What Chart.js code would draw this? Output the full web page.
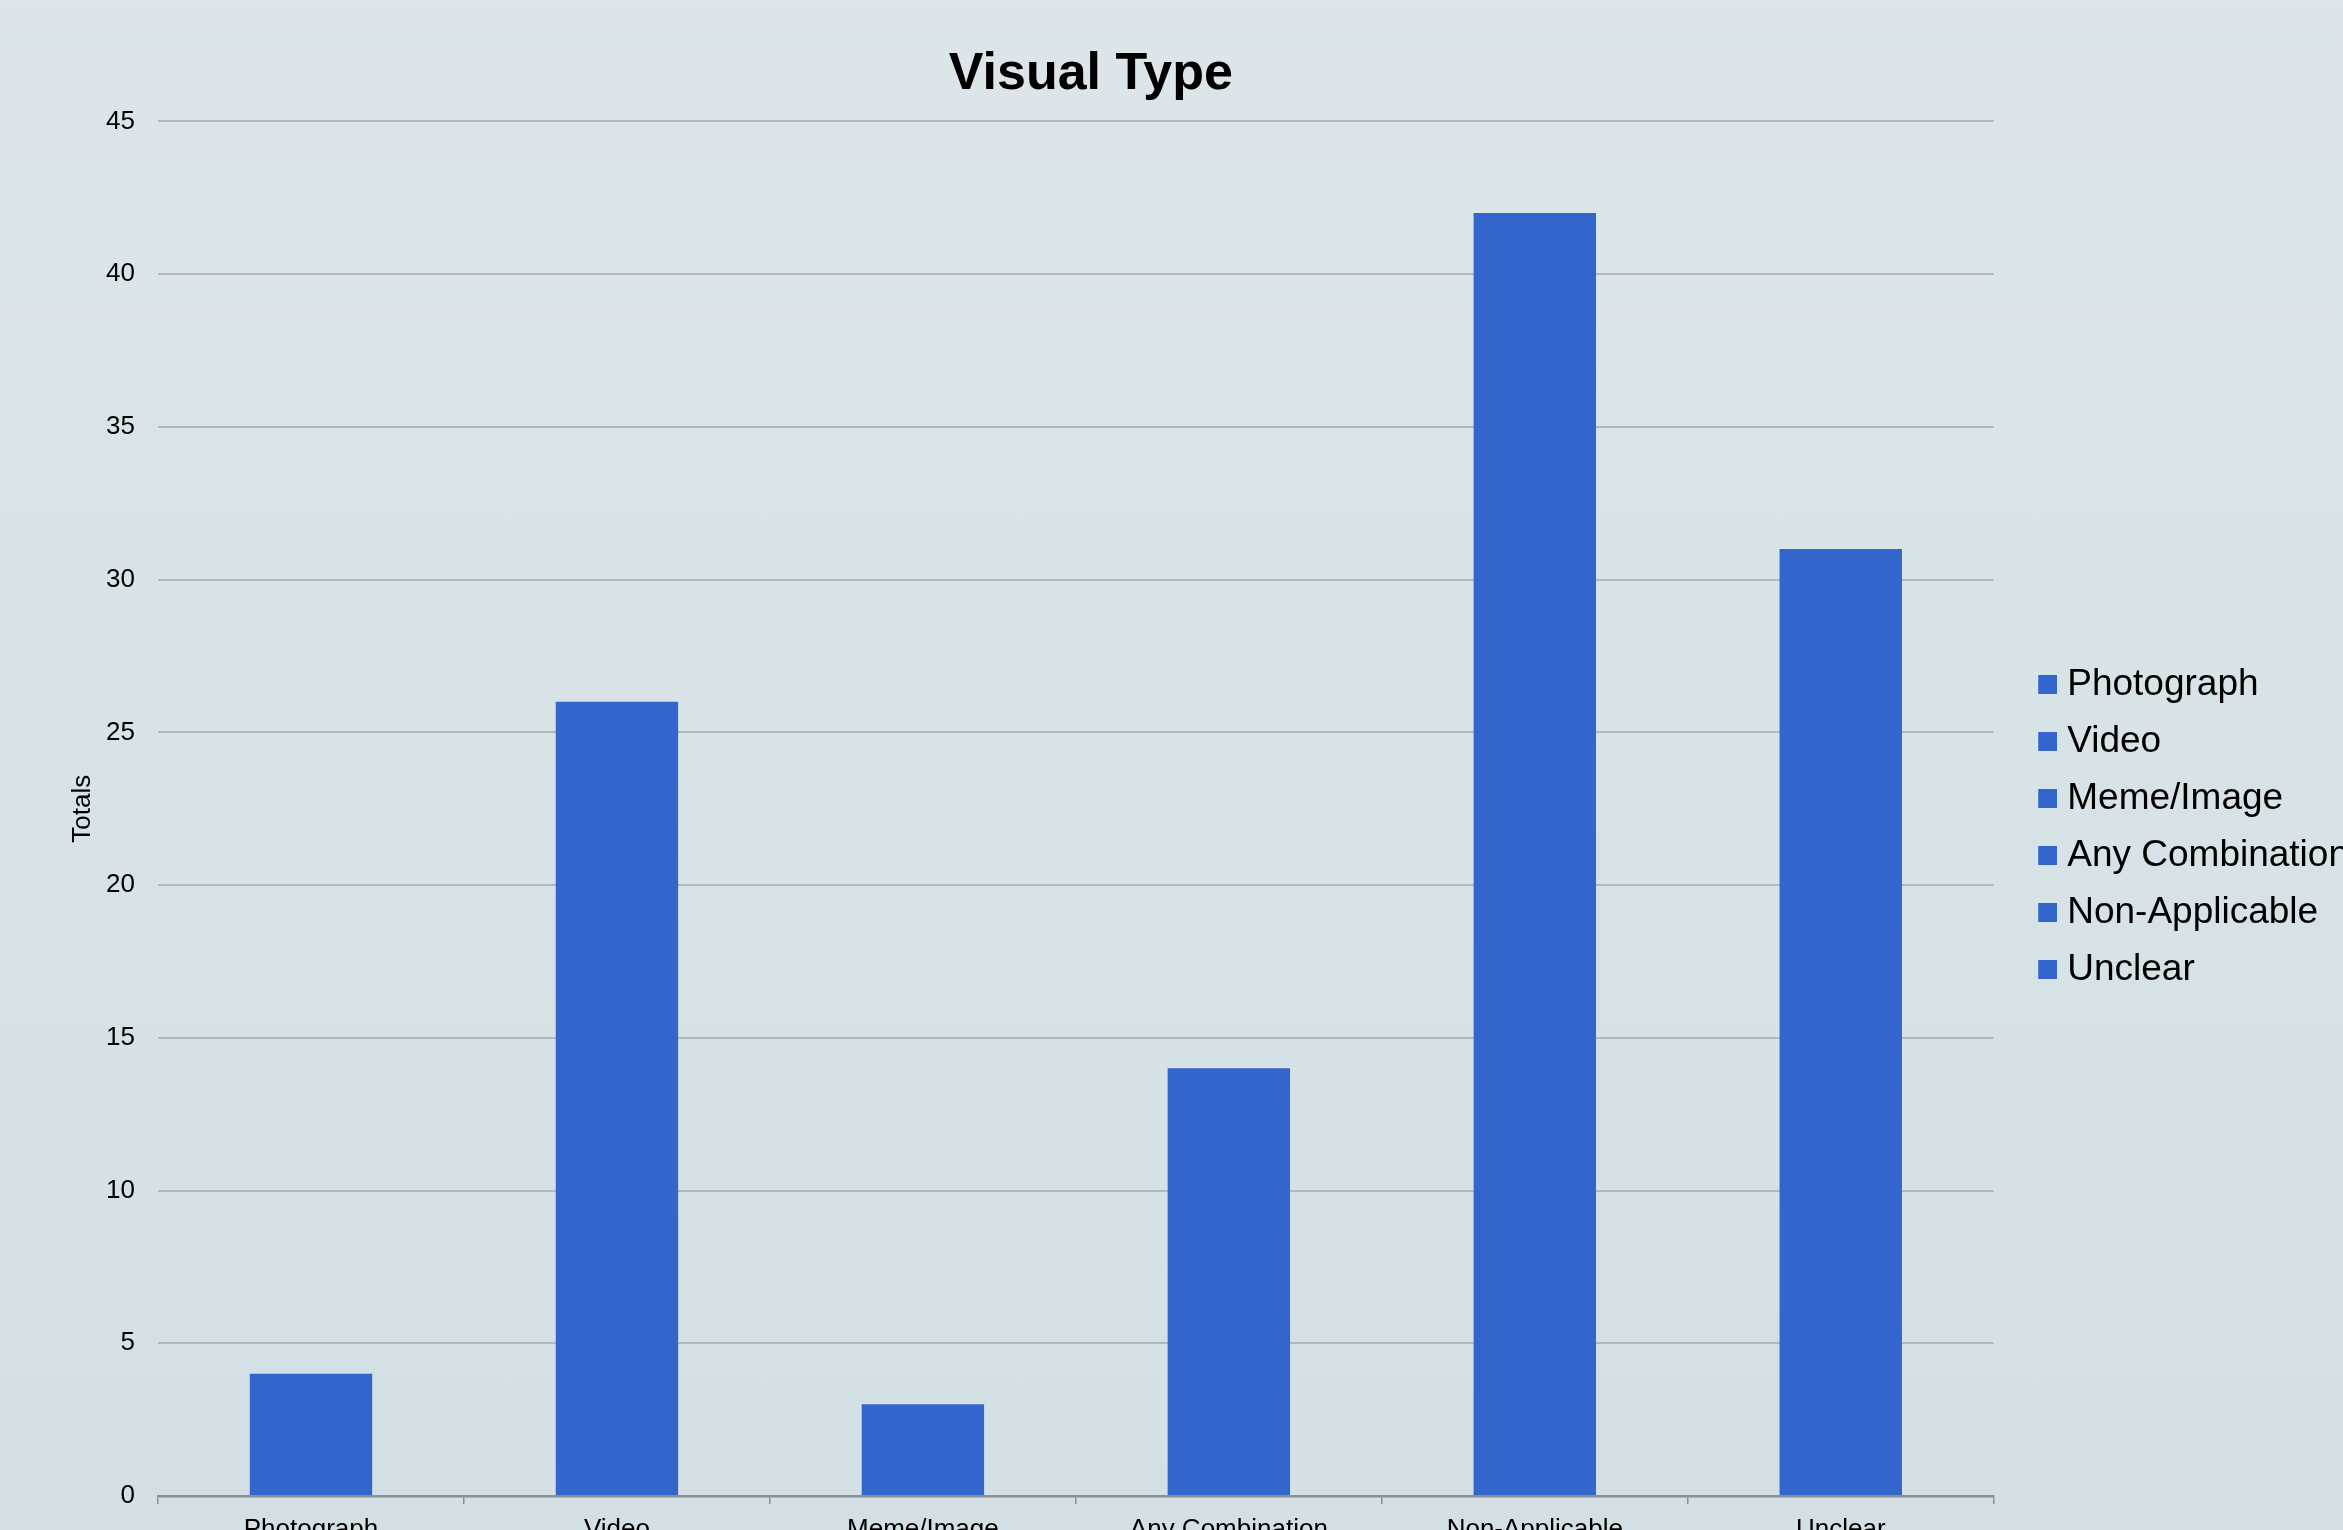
<!DOCTYPE html>
<html><head><meta charset="utf-8">
<script src="https://cdn.jsdelivr.net/npm/chart.js@4.4.1/dist/chart.umd.min.js"></script>
<style>
html,body{margin:0;padding:0;width:2343px;height:1530px;overflow:hidden;background:linear-gradient(180deg,#dce6ea 0%,#d2e0e5 100%);}
#wrap{position:absolute;left:0;top:0;width:2343px;height:1654px;}
</style></head><body>
<div id="wrap"><canvas id="c"></canvas></div>
<script>
const categories = ['Photograph', 'Video', 'Meme/Image', 'Any Combination', 'Non-Applicable', 'Unclear'];
const totals = [4, 26, 3, 14, 42, 31];
const yTickValues = [0, 5, 10, 15, 20, 25, 30, 35, 40, 45];
const chartTitle = 'Visual Type';
const yAxisTitle = 'Totals';
const barColor = '#3366CC';

Chart.defaults.font.family = "'Liberation Sans', Arial, sans-serif";
Chart.defaults.color = '#000';

// legend marker: 19px square placed at the right of a wider transparent swatch
const marker = document.createElement('canvas');
marker.width = 36; marker.height = 19;
(function () { const g = marker.getContext('2d'); g.fillStyle = barColor; g.fillRect(17, 0, 19, 19); })();

const shiftPlugin = {
  id: 'shiftBoxes',
  afterLayout(chart) {
    const lg = chart.legend;
    if (lg) { lg.left += 16; lg.right += 16; }
    const tb = chart.titleBlock;
    if (tb) { tb.left += 15; tb.right += 15; }
  }
};

new Chart(document.getElementById('c'), {
  type: 'bar',
  data: {
    labels: categories,
    datasets: [{
      label: yAxisTitle,
      data: totals,
      backgroundColor: barColor,
      barPercentage: 0.4,
      categoryPercentage: 1.0
    }]
  },
  plugins: [shiftPlugin],
  options: {
    responsive: true,
    maintainAspectRatio: false,
    animation: false,
    layout: { padding: 0 },
    plugins: {
      title: {
        display: true,
        text: chartTitle,
        fullSize: false,
        color: '#000',
        font: { size: 52, weight: 'bold' },
        padding: { top: 43, bottom: 16 }
      },
      legend: {
        display: true,
        position: 'right',
        align: 'center',
        maxWidth: 350,
        labels: {
          font: { size: 37 },
          color: '#000',
          boxWidth: 19,
          boxHeight: 19,
          padding: 20,
          usePointStyle: true,
          generateLabels: (chart) => categories.map((c, i) => ({
            text: c, fillStyle: barColor, strokeStyle: barColor, lineWidth: 0,
            pointStyle: marker, hidden: false, index: i, datasetIndex: 0
          }))
        }
      },
      tooltip: { enabled: false }
    },
    scales: {
      x: {
        grid: { display: true, drawOnChartArea: false, drawTicks: true, tickLength: 8, color: '#8e8e8e', lineWidth: 1.5 },
        border: { display: true, color: '#8e8e8e', width: 2.5 },
        ticks: { font: { size: 26 }, color: '#000', padding: 10, maxRotation: 0, autoSkip: false },
        afterFit: (s) => { s.height = 158; }
      },
      y: {
        min: yTickValues[0],
        max: yTickValues[yTickValues.length - 1],
        ticks: { stepSize: yTickValues[1] - yTickValues[0], font: { size: 26 }, color: '#000', padding: 23 },
        grid: { color: '#b4b8b8', lineWidth: 2, drawTicks: false },
        border: { display: false },
        title: { display: true, text: yAxisTitle, font: { size: 26 }, color: '#000', padding: { top: 67, bottom: 0 } },
        afterFit: (s) => { s.width = 158; }
      }
    }
  }
});
</script>
</body></html>
